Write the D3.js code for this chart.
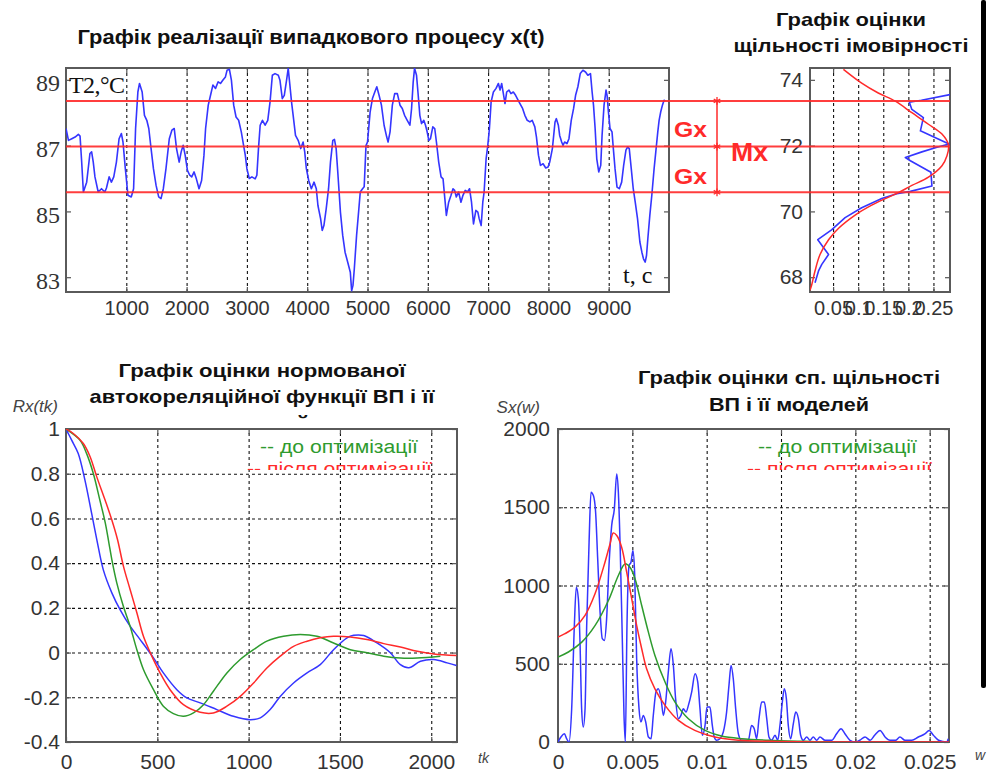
<!DOCTYPE html>
<html>
<head>
<meta charset="utf-8">
<script src="https://cdn.jsdelivr.net/npm/d3@7"></script>
<style>
    body { margin: 0; background: #fff; }
    svg { display: block; font-family: "Liberation Sans", Arial, sans-serif; }
    .grid .domain, .tick-in .domain, .lab .domain { display: none; }
    .grid line { stroke: #111; stroke-width: 1.1; stroke-dasharray: 3,3; }
    .tick-in line { stroke: #555; stroke-width: 1.2; }
    .lab text { fill: #333; }
</style>
</head>
<body>
<svg id="chart" width="987" height="775"></svg>
<script>
// realisation x(t), [t, T2 degC]
var processSeries = [[0,87.52],[41,87.16],[96,87.21],[151,87.26],[205,87.34],[233,87.29],[260,86.50],[288,85.59],[343,85.89],[397,86.76],[425,86.81],[452,86.50],[480,86.05],[534,85.59],[589,85.69],[644,85.59],[671,85.71],[715,86.05],[753,85.89],[792,86.05],[836,86.50],[880,87.21],[918,87.37],[945,87.11],[984,86.30],[1027,85.49],[1082,85.44],[1121,85.69],[1154,87.52],[1192,88.63],[1219,88.89],[1263,88.63],[1301,87.92],[1340,87.77],[1373,87.52],[1411,86.91],[1450,86.30],[1494,85.79],[1537,85.44],[1576,85.39],[1614,85.69],[1658,86.30],[1713,87.21],[1756,87.47],[1795,87.52],[1833,86.91],[1877,86.50],[1910,86.81],[1943,87.01],[1976,86.71],[2014,86.25],[2052,86.10],[2085,86.05],[2124,86.20],[2162,85.99],[2206,85.69],[2249,85.94],[2288,86.71],[2315,87.52],[2359,88.23],[2397,88.53],[2436,88.84],[2480,88.74],[2523,88.94],[2562,88.89],[2600,88.99],[2644,89.09],[2671,89.29],[2710,89.32],[2743,88.99],[2781,88.23],[2820,87.87],[2863,87.77],[2907,87.42],[2945,87.01],[2973,86.71],[3000,86.30],[3039,86.00],[3083,86.05],[3137,85.99],[3165,86.10],[3192,86.91],[3220,87.62],[3258,87.77],[3302,87.62],[3346,87.77],[3384,88.33],[3422,89.14],[3466,89.19],[3521,89.14],[3548,88.99],[3587,88.43],[3620,88.53],[3658,88.99],[3685,89.35],[3713,88.84],[3740,88.33],[3767,87.92],[3806,87.31],[3850,87.16],[3893,86.91],[3932,87.11],[3959,86.81],[3986,86.30],[4025,85.94],[4069,85.69],[4113,85.89],[4151,85.69],[4178,85.18],[4222,84.78],[4249,84.42],[4277,84.57],[4315,85.08],[4354,85.69],[4386,86.50],[4425,87.16],[4452,87.19],[4480,86.91],[4507,86.20],[4551,84.98],[4589,84.27],[4628,83.76],[4671,83.46],[4715,83.15],[4737,82.59],[4759,82.75],[4781,83.25],[4819,84.27],[4852,84.98],[4880,85.59],[4918,85.69],[4945,85.75],[4975,87.00],[5000,87.11],
    [5044,88.03],[5082,88.43],[5121,88.63],[5154,88.79],[5192,88.53],[5231,88.23],[5275,87.62],[5319,87.26],[5341,87.11],[5374,87.42],[5412,88.23],[5451,88.58],[5495,88.58],[5539,88.23],[5577,88.13],[5615,87.92],[5659,87.77],[5703,87.62],[5731,88.13],[5758,88.94],[5780,89.35],[5813,89.14],[5841,88.53],[5868,87.92],[5896,87.67],[5934,87.77],[5962,87.62],[5989,87.42],[6017,87.16],[6044,87.21],[6083,87.57],[6115,87.52],[6143,87.11],[6181,86.50],[6220,86.05],[6253,85.99],[6275,85.54],[6308,84.88],[6346,85.28],[6385,85.49],[6418,85.69],[6445,85.64],[6473,85.44],[6511,85.59],[6550,85.28],[6583,85.49],[6621,85.64],[6660,85.59],[6692,85.69],[6725,85.28],[6758,84.62],[6797,85.03],[6830,84.98],[6852,84.78],[6885,84.57],[6912,85.28],[6934,85.59],[6967,86.60],[6995,87.01],[7022,87.52],[7050,88.33],[7088,88.63],[7132,88.74],[7171,88.89],[7198,88.69],[7225,88.89],[7253,88.58],[7280,88.28],[7308,88.63],[7346,88.69],[7379,88.58],[7418,88.63],[7456,88.53],[7484,88.43],[7528,88.28],[7572,88.13],[7610,87.92],[7649,87.77],[7693,87.72],[7731,87.77],[7775,87.57],[7802,87.26],[7835,86.71],[7868,86.40],[7912,86.45],[7956,86.32],[7995,86.35],[8022,86.50],[8066,86.91],[8110,87.72],[8132,87.82],[8165,87.62],[8187,87.31],[8220,87.11],[8242,87.01],[8269,87.11],[8308,87.06],[8341,87.21],[8379,87.77],[8418,88.13],[8451,88.53],[8489,88.79],[8528,89.19],[8572,89.29],[8616,89.24],[8654,89.14],[8698,89.19],[8725,88.63],[8748,88.23],[8775,87.52],[8802,86.60],[8835,86.20],[8868,86.40],[8890,87.31],[8923,88.23],[8956,88.69],[8973,88.53],[8995,88.03],[9022,87.52],[9055,87.42],[9077,86.91],[9105,86.30],[9138,85.74],[9176,85.69],[9215,85.89],[9248,86.40],[9286,86.86],[9314,86.96],[9341,86.91],[9374,86.30],[9407,85.69],[9440,85.28],[9478,84.78],[9517,84.07],[9550,83.76],[9577,83.56],[9605,83.46],[9627,83.66],[9649,84.17],[9682,84.88],[9715,85.49],[9753,86.30],[9781,86.81],[9814,87.42],[9836,87.77],[9863,88.03],[9891,88.23],[9918,88.38],[9940,88.35]];
var processTicksX = [1000, 2000, 3000, 4000, 5000, 6000, 7000, 8000, 9000];
var processTicksY = [83, 85, 87, 89];
var mx = 86.97, gx = 1.39;

// probability density, [f, level]
var densityHist = [[0.283,73.55],[0.226,73.38],[0.202,73.32],[0.207,73.10],[0.230,72.85],[0.224,72.45],[0.253,72.25],[0.281,72.05],[0.257,71.95],[0.227,71.81],[0.194,71.64],[0.204,71.54],[0.245,71.19],[0.247,70.77],[0.204,70.61],[0.177,70.54],[0.147,70.39],[0.107,70.11],[0.074,69.81],[0.047,69.44],[0.0195,69.14],[0.041,68.69],[0.0275,68.39],[0.021,68.19],[0.014,67.83]];
var densityNormal = [[0.0706,74.32],[0.107,73.90],[0.140,73.60],[0.174,73.35],[0.207,73.00],[0.240,72.65],[0.267,72.35],[0.280,72.02],[0.277,71.69],[0.267,71.39],[0.240,71.04],[0.207,70.79],[0.180,70.57],[0.154,70.39],[0.127,70.19],[0.094,69.89],[0.061,69.49],[0.041,69.14],[0.024,68.69],[0.014,68.19],[0.0076,67.78],[0.004,67.60]];
var densityTicksX = [0.05, 0.1, 0.15, 0.2, 0.25];
var densityTicksY = [68, 70, 72, 74];

// normalised autocorrelation, [tk, Rx]
var acfEstimate = [[0,1],[31,0.95],[67,0.89],[104,0.77],[141,0.62],[170,0.50],[204,0.371],[251,0.267],[296,0.192],[351,0.118],[406,0.058],[479,-0.024],[533,-0.091],[607,-0.166],[662,-0.203],[735,-0.225],[826,-0.255],[917,-0.285],[1009,-0.300],[1064,-0.292],[1118,-0.255],[1173,-0.196],[1246,-0.136],[1320,-0.091],[1392,-0.054],[1465,0.013],[1539,0.066],[1575,0.077],[1630,0.076],[1703,0.043],[1776,-0.001],[1831,-0.054],[1877,-0.068],[1941,-0.039],[2014,-0.031],[2087,-0.046],[2138,-0.058]];
var acfBefore = [[0,1],[77,0.95],[113,0.89],[150,0.80],[186,0.68],[215,0.58],[235,0.49],[251,0.416],[278,0.312],[314,0.207],[351,0.118],[388,0.013],[424,-0.076],[479,-0.166],[533,-0.240],[588,-0.273],[643,-0.285],[698,-0.270],[753,-0.233],[807,-0.173],[881,-0.091],[954,-0.031],[1027,0.013],[1100,0.051],[1191,0.073],[1283,0.081],[1374,0.073],[1465,0.043],[1557,0.013],[1648,-0.001],[1740,-0.016],[1831,-0.024],[1923,-0.024],[2050,-0.016]];
var acfAfter = [[0,1],[40,0.98],[95,0.935],[132,0.876],[168,0.787],[214,0.682],[251,0.593],[282,0.506],[314,0.388],[351,0.282],[388,0.178],[424,0.073],[470,-0.016],[515,-0.091],[570,-0.166],[643,-0.233],[735,-0.267],[807,-0.270],[881,-0.240],[954,-0.196],[1027,-0.136],[1100,-0.069],[1173,-0.016],[1246,0.028],[1320,0.051],[1392,0.066],[1465,0.073],[1557,0.070],[1648,0.058],[1740,0.040],[1831,0.025],[1923,0.006],[2014,-0.006],[2138,-0.013]];
var acfTicksX = [0, 500, 1000, 1500, 2000];
var acfTicksY = [-0.4, -0.2, 0, 0.2, 0.4, 0.6, 0.8, 1];

// spectral density, [w, Sx]
var specEstimate = [[0,0],[0.0002,32],[0.00043,53],[0.00058,21],[0.00074,0],[0.00092,213],[0.0011,745],[0.00123,989],[0.00137,915],[0.00148,638],[0.00159,213],[0.0017,96],[0.00182,213],[0.00193,745],[0.00209,1277],[0.00222,1596],[0.00238,1575],[0.00253,1468],[0.00267,1170],[0.00283,830],[0.00298,660],[0.00312,649],[0.00327,787],[0.00343,1128],[0.00361,1383],[0.00379,1490],[0.00395,1713],[0.00406,1596],[0.00419,1213],[0.00433,638],[0.00444,170],[0.00453,0],[0.00464,745],[0.00478,1128],[0.00491,1149],[0.00504,1224],[0.00516,1064],[0.00529,532],[0.00545,213],[0.00558,128],[0.00574,170],[0.0059,128],[0.00608,32],[0.00626,21],[0.00641,170],[0.00659,319],[0.00675,340],[0.00693,277],[0.00709,170],[0.00724,255],[0.00742,447],[0.0076,596],[0.00776,489],[0.00791,277],[0.0081,149],[0.00827,170],[0.00843,213],[0.00861,191],[0.00877,234],[0.00899,319],[0.00922,436],[0.0094,383],[0.00955,213],[0.00971,43],[0.00989,106],[0.01002,223],[0.01022,223],[0.01038,106],[0.01051,32],[0.01067,11],[0.01089,21],[0.01112,64],[0.01134,191],[0.0115,362],[0.01164,489],[0.01179,404],[0.01195,213],[0.01213,53],[0.01235,11],[0.01258,11],[0.0128,11],[0.01302,106],[0.0132,85],[0.01336,21],[0.01352,149],[0.0137,255],[0.01388,255],[0.01404,149],[0.01419,32],[0.01437,11],[0.0146,43],[0.01478,11],[0.01493,106],[0.01509,255],[0.01522,340],[0.01536,277],[0.01549,106],[0.01565,21],[0.01583,117],[0.01599,191],[0.01617,149],[0.01632,43],[0.0165,11],[0.01673,32],[0.01695,11],[0.01717,32],[0.0174,11],[0.01762,32],[0.01796,11],[0.01841,11],[0.01874,53],[0.01904,85],[0.0193,53],[0.01964,11],[0.02,0],[0.0203,11],[0.02065,32],[0.021,11],[0.0213,43],[0.02166,74],[0.022,32],[0.02233,11],[0.0227,11],[0.023,32],[0.02334,11],[0.0238,11],[0.02424,32],[0.0247,53],[0.02496,74],[0.02525,43],[0.0256,11],[0.02614,0],[0.02625,21]];
var specBefore = [[0,543],[0.0007,575],[0.0016,638],[0.0025,745],[0.00339,904],[0.00406,1064],[0.00451,1138],[0.00484,1117],[0.00518,1043],[0.00563,872],[0.00608,702],[0.00652,553],[0.0072,383],[0.00787,255],[0.00877,149],[0.00989,74],[0.0110,38],[0.01235,21],[0.01415,11],[0.0166,4],[0.0184,0]];
var specAfter = [[0,670],[0.00047,692],[0.00114,734],[0.00182,809],[0.00249,947],[0.00316,1149],[0.0035,1266],[0.00372,1336],[0.00395,1319],[0.00428,1245],[0.00462,1085],[0.00496,915],[0.00529,745],[0.00563,596],[0.00596,468],[0.00652,340],[0.0072,234],[0.0081,138],[0.0092,74],[0.01056,32],[0.01213,11],[0.01437,4],[0.0177,0],[0.0263,0]];
var specTicksX = [0, 0.005, 0.01, 0.015, 0.02, 0.025];
var specTicksY = [0, 500, 1000, 1500, 2000];

var legendLabels = ["-- до оптимізації", "-- після оптимізації"];

var blue = "#3535ff", red = "#ff2a2a", green = "#2e9b2e";

var svg = d3.select("#chart");
var defs = svg.append("defs");
var clipCount = 0;

function clipRect(x0, y0, w, h) {
    var id = "clip" + (clipCount++);
    defs.append("clipPath").attr("id", id).append("rect")
        .attr("x", x0).attr("y", y0).attr("width", w).attr("height", h);
    return "url(#" + id + ")";
}

// axes box in the matlab way: dotted grid, inward ticks, grey frame
function drawAxes(x, y, o) {
    var left = x.range()[0], right = x.range()[1],
        bottom = y.range()[0], top = y.range()[1];
    var g = svg.append("g");

    if (o.gridX) {
        g.append("g").attr("class", "grid")
            .attr("transform", "translate(0," + bottom + ")")
            .call(d3.axisBottom(x).tickValues(o.gridX).tickSize(-(bottom - top)).tickFormat(""));
    }
    if (o.gridY) {
        g.append("g").attr("class", "grid")
            .attr("transform", "translate(" + left + ",0)")
            .call(d3.axisLeft(y).tickValues(o.gridY).tickSize(-(right - left)).tickFormat(""));
    }

    g.append("g").attr("class", "tick-in").attr("transform", "translate(0," + bottom + ")")
        .call(d3.axisBottom(x).tickValues(o.ticksX).tickSize(-5).tickFormat(""));
    g.append("g").attr("class", "tick-in").attr("transform", "translate(0," + top + ")")
        .call(d3.axisTop(x).tickValues(o.ticksX).tickSize(-5).tickFormat(""));
    g.append("g").attr("class", "tick-in").attr("transform", "translate(" + left + ",0)")
        .call(d3.axisLeft(y).tickValues(o.ticksY).tickSize(-5).tickFormat(""));
    g.append("g").attr("class", "tick-in").attr("transform", "translate(" + right + ",0)")
        .call(d3.axisRight(y).tickValues(o.ticksY).tickSize(-5).tickFormat(""));

    g.append("rect")
        .attr("x", left).attr("y", top)
        .attr("width", right - left).attr("height", bottom - top)
        .attr("fill", "none").attr("stroke", "#5a5a5a").attr("stroke-width", 2);

    var lx = g.append("g").attr("class", "lab").attr("transform", "translate(0," + bottom + ")")
        .call(d3.axisBottom(x).tickValues(o.labelsX || o.ticksX).tickSize(0).tickPadding(o.padX)
            .tickFormat(function (d) { return String(d); }));
    lx.selectAll("text").style("font-size", o.fontX + "px").style("font-family", o.familyX || null);

    var ly = g.append("g").attr("class", "lab").attr("transform", "translate(" + left + ",0)")
        .call(d3.axisLeft(y).tickValues(o.ticksY).tickSize(0).tickPadding(o.padY)
            .tickFormat(function (d) { return String(d); }));
    ly.selectAll("text").style("font-size", o.fontY + "px").style("font-family", o.familyY || null)
        .attr("dy", o.dyY || "0.32em");

    return clipRect(left, top, right - left, bottom - top);
}

function addLine(data, x, y, color, clip, curve, width) {
    svg.append("path")
        .datum(data)
        .attr("clip-path", clip)
        .attr("fill", "none")
        .attr("stroke", color)
        .attr("stroke-width", width || 1.5)
        .attr("stroke-linejoin", "round")
        .attr("d", d3.line()
            .curve(curve || d3.curveLinear)
            .x(function (d) { return x(d[0]); })
            .y(function (d) { return y(d[1]); }));
}

function title(lines, cx, y0, step, widths, size) {
    var t = svg.append("g");
    lines.forEach(function (s, i) {
        t.append("text")
            .attr("x", cx).attr("y", y0 + i * step)
            .attr("text-anchor", "middle")
            .attr("textLength", widths[i]).attr("lengthAdjust", "spacingAndGlyphs")
            .style("font-weight", "bold").style("font-size", size + "px").style("fill", "#111")
            .text(s);
    });
    return t;
}

// ---- realisation of the random process
var xP = d3.scaleLinear().domain([0, 10000]).range([66, 669]);
var yP = d3.scaleLinear().domain([82.55, 89.36]).range([292, 68]);
var clipP = drawAxes(xP, yP, {
    gridX: processTicksX, ticksX: processTicksX, ticksY: processTicksY,
    padX: 9, fontX: 20, padY: 6, fontY: 24, familyY: "'Liberation Serif', 'Times New Roman', serif", dyY: "0.45em"
});
addLine(processSeries, xP, yP, blue, clipP, d3.curveLinear, 1.6);

// ---- probability density (levels shifted by 15 against the process)
var xD = d3.scaleLinear().domain([0.004, 0.283]).range([810, 950]);
var yD = d3.scaleLinear().domain([67.55, 74.36]).range([292, 68]);
var clipD = drawAxes(xD, yD, {
    gridX: densityTicksX, ticksX: densityTicksX, ticksY: densityTicksY,
    padX: 9, fontX: 20, padY: 7, fontY: 21
});
addLine(densityHist, xD, yD, blue, clipD, d3.curveLinear, 1.6);
addLine(densityNormal, xD, yD, red, clipD, d3.curveCatmullRom, 1.5);

// mx and mx +- gx across both panels
svg.append("g").selectAll("line")
    .data([mx + gx, mx, mx - gx])
    .enter().append("line")
    .attr("x1", 66).attr("x2", 950)
    .attr("y1", function (d) { return yP(d); })
    .attr("y2", function (d) { return yP(d); })
    .attr("stroke", red).attr("stroke-width", 2).attr("opacity", 0.9);

svg.append("line")
    .attr("x1", 717).attr("x2", 717)
    .attr("y1", yP(mx + gx)).attr("y2", yP(mx - gx))
    .attr("stroke", red).attr("stroke-width", 1.5);
svg.append("g").selectAll("path")
    .data([mx + gx, mx, mx - gx])
    .enter().append("path")
    .attr("transform", function (d) { return "translate(717," + yP(d) + ")"; })
    .attr("d", d3.symbol(d3.symbolAsterisk, 40))
    .attr("fill", "none").attr("stroke", red).attr("stroke-width", 1.3);

var mark = svg.append("g").style("fill", red).style("font-weight", "bold");
mark.selectAll("text")
    .data([["Gx", 674, 137, 33, 22], ["Gx", 674, 184, 33, 22], ["Mx", 731, 161, 37, 25]])
    .enter().append("text")
    .attr("x", function (d) { return d[1]; })
    .attr("y", function (d) { return d[2]; })
    .attr("textLength", function (d) { return d[3]; })
    .attr("lengthAdjust", "spacingAndGlyphs")
    .style("font-size", function (d) { return d[4] + "px"; })
    .text(function (d) { return d[0]; });

// ---- autocorrelation
var xA = d3.scaleLinear().domain([0, 2141]).range([66, 457]);
var yA = d3.scaleLinear().domain([-0.4, 1]).range([742, 429]);
var clipA = drawAxes(xA, yA, {
    gridX: [500, 1000, 1500, 2000], gridY: [-0.2, 0, 0.2, 0.4, 0.6, 0.8],
    ticksX: acfTicksX, ticksY: acfTicksY, padX: 12, fontX: 21, padY: 6, fontY: 21
});
addLine(acfEstimate, xA, yA, blue, clipA, d3.curveCatmullRom, 1.5);
addLine(acfBefore, xA, yA, green, clipA, d3.curveCatmullRom, 1.5);
addLine(acfAfter, xA, yA, red, clipA, d3.curveCatmullRom, 1.5);

// ---- spectral density
var xS = d3.scaleLinear().domain([0, 0.0263]).range([558, 949]);
var yS = d3.scaleLinear().domain([0, 2000]).range([742, 429]);
var clipS = drawAxes(xS, yS, {
    gridX: [0.005, 0.01, 0.015, 0.02, 0.025], gridY: [500, 1000, 1500],
    ticksX: specTicksX, ticksY: specTicksY, padX: 12, fontX: 21, padY: 8, fontY: 21
});
addLine(specEstimate, xS, yS, blue, clipS, d3.curveMonotoneX, 1.5);
addLine(specBefore, xS, yS, green, clipS, d3.curveCatmullRom, 1.5);
addLine(specAfter, xS, yS, red, clipS, d3.curveCatmullRom, 1.5);

// ---- titles
title(["Графік реалізації випадкового процесу x(t)"], 311, 44, 0, [467], 20);
title(["Графік оцінки", "щільності імовірності"], 851, 26, 26, [150, 235], 19);
title(["Графік оцінки нормованої", "автокореляційної функції ВП і її", "моделей"], 262, 377, 26, [287, 345, 95], 19)
    .attr("clip-path", clipRect(0, 0, 490, 419));
title(["Графік оцінки сп. щільності", "ВП і її моделей"], 789, 384, 27, [302, 160], 19);

// ---- legends, the second line is cut like in the source
function legend(x0g, x0r, wg, wr) {
    var lg = svg.append("g").attr("clip-path", clipRect(x0r - 5, 430, 200, 40))
        .style("font-size", "18px");
    lg.append("text").attr("x", x0g).attr("y", 453).attr("textLength", wg)
        .attr("lengthAdjust", "spacingAndGlyphs").style("fill", green).text(legendLabels[0]);
    lg.append("text").attr("x", x0r).attr("y", 475).attr("textLength", wr)
        .attr("lengthAdjust", "spacingAndGlyphs").style("fill", red).text(legendLabels[1]);
}
legend(260, 247, 158, 185);
legend(758, 747, 159, 185);

// ---- axis names
var names = svg.append("g").style("font-style", "italic").style("fill", "#444");
names.append("text").attr("x", 58).attr("y", 412).attr("text-anchor", "end").style("font-size", "17px").text("Rx(tk)");
names.append("text").attr("x", 540).attr("y", 413).attr("text-anchor", "end").style("font-size", "17px").text("Sx(w)");
names.append("text").attr("x", 478).attr("y", 763).style("font-size", "14px").text("tk");
names.append("text").attr("x", 975).attr("y", 760).style("font-size", "14px").text("w");

var serif = svg.append("g").style("font-family", "'Liberation Serif', 'Times New Roman', serif").style("fill", "#111");
serif.append("text").attr("x", 69).attr("y", 93).attr("textLength", 56).style("font-size", "24px").text("T2,°C");
serif.append("text").attr("x", 623).attr("y", 283).style("font-size", "24px").text("t, c");

// page border at the right
svg.append("rect").attr("x", 981).attr("y", 0).attr("width", 5).attr("height", 688)
    .attr("rx", 2).attr("fill", "#000");
</script>
</body>
</html>
